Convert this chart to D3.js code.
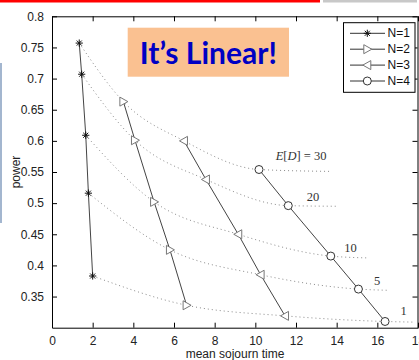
<!DOCTYPE html>
<html>
<head>
<meta charset="utf-8">
<script src="https://cdn.jsdelivr.net/npm/d3@7"></script>
<style>
  body { margin: 0; background: #fff; }
  svg { display: block; }
  .tick text { font-family: "Liberation Sans", Arial, sans-serif; font-size: 12px; fill: #222; }
</style>
</head>
<body>
<div id="chart"></div>
<script>
// values
const seriesNames = ["N=1", "N=2", "N=3", "N=4"];
const sojourn = [
  [1.34, 1.46, 1.66, 1.79, 2.00],
  [3.51, 4.08, 5.02, 5.80, 6.62],
  [6.49, 7.57, 9.16, 10.26, 11.46],
  [10.18, 11.62, 13.71, 15.07, 16.38]
];
const power = [
  [0.757, 0.707, 0.609, 0.516, 0.383],
  [0.663, 0.601, 0.502, 0.425, 0.336],
  [0.600, 0.538, 0.450, 0.385, 0.319],
  [0.554, 0.496, 0.415, 0.362, 0.310]
];
// iso-delay curves (dotted), one per E[D] level, with a short tail past N=4
const delayLevels = [30, 20, 10, 5, 1];
const tailSojourn = [13.67, 14.0, 15.6, 16.6, 17.75];
const tailPower = [0.551, 0.495, 0.412, 0.360, 0.309];
const labelSojourn = [12.25, 12.84, 14.68, 15.99, 17.29];
const labelPower = [0.576, 0.510, 0.428, 0.375, 0.327];
const xTicks = [0, 2, 4, 6, 8, 10, 12, 14, 16, 18];
const yTicks = [0.35, 0.4, 0.45, 0.5, 0.55, 0.6, 0.65, 0.7, 0.75, 0.8];

const width = 419, height = 360;
const margin = { top: 16.3, right: 1, bottom: 32.3, left: 52 };

const svg = d3.select("#chart").append("svg")
  .attr("width", width)
  .attr("height", height);

const x = d3.scaleLinear().domain([0, 18]).range([margin.left, width - margin.right]);
const y = d3.scaleLinear().domain([0.3, 0.8]).range([height - margin.bottom, margin.top]);

// slide decorations
svg.append("rect").attr("x", 0).attr("y", 0).attr("width", 320).attr("height", 2.5).attr("fill", "#ff0000");
svg.append("rect").attr("x", 323).attr("y", 0).attr("width", 94).attr("height", 2.5).attr("fill", "#c8c8c8");
svg.append("rect").attr("x", 0).attr("y", 63).attr("width", 2).attr("height", 160).attr("fill", "#a3b6cf");

// dotted iso-delay curves
const dotted = d3.line().x(d => x(d[0])).y(d => y(d[1])).curve(d3.curveMonotoneX);
delayLevels.forEach((lvl, j) => {
  const pts = sojourn.map((s, i) => [s[j], power[i][j]]);
  pts.push([tailSojourn[j], tailPower[j]]);
  svg.append("path")
    .attr("d", dotted(pts))
    .attr("fill", "none")
    .attr("stroke", "#8a8a8a")
    .attr("stroke-width", 1)
    .attr("stroke-dasharray", "1,3");
});

// iso-delay labels
delayLevels.forEach((lvl, j) => {
  const t = svg.append("text")
    .attr("x", x(labelSojourn[j]))
    .attr("y", y(labelPower[j]))
    .attr("text-anchor", "middle")
    .attr("dominant-baseline", "central")
    .attr("font-family", "'Liberation Serif', 'Times New Roman', serif")
    .attr("font-size", 12.5)
    .attr("fill", "#333");
  if (j === 0) {
    t.append("tspan").attr("font-style", "italic").text("E");
    t.append("tspan").text("[");
    t.append("tspan").attr("font-style", "italic").text("D");
    t.append("tspan").text("] = " + lvl);
  } else {
    t.text(lvl);
  }
});

// axes box with inward ticks on all sides
svg.append("g")
  .attr("transform", `translate(0,${y(0.3)})`)
  .call(d3.axisBottom(x).tickValues(xTicks).tickSizeInner(-5).tickSizeOuter(0).tickPadding(9));
svg.append("g")
  .attr("transform", `translate(0,${y(0.8)})`)
  .call(d3.axisTop(x).tickValues(xTicks).tickSizeInner(-5).tickSizeOuter(0).tickFormat(""));
svg.append("g")
  .attr("transform", `translate(${x(0)},0)`)
  .call(d3.axisLeft(y).tickValues(yTicks).tickSizeInner(-5).tickSizeOuter(0).tickPadding(8).tickFormat(d => d3.format("")(+d.toFixed(2))));
svg.append("g")
  .attr("transform", `translate(${x(18) - 0.5},0)`)
  .call(d3.axisRight(y).tickValues(yTicks).tickSizeInner(-5).tickSizeOuter(0).tickFormat(""));
svg.selectAll(".domain").attr("stroke", "#000");
svg.selectAll(".tick line").attr("stroke", "#000");

// marker shapes
function marker(g, i, cx, cy) {
  const s = 3.6;
  if (i === 0) {
    g.append("path")
      .attr("d", `M${cx},${cy - s}V${cy + s}M${cx - s},${cy}H${cx + s}` +
        `M${cx - s * 0.7},${cy - s * 0.7}L${cx + s * 0.7},${cy + s * 0.7}` +
        `M${cx - s * 0.7},${cy + s * 0.7}L${cx + s * 0.7},${cy - s * 0.7}`)
      .attr("stroke", "#111").attr("stroke-width", 1).attr("fill", "none");
  } else if (i === 1) {
    g.append("path")
      .attr("d", `M${cx - 3.5},${cy - 4.5}L${cx + 4.5},${cy}L${cx - 3.5},${cy + 4.5}Z`)
      .attr("stroke", "#777").attr("stroke-width", 1).attr("fill", "#fff");
  } else if (i === 2) {
    g.append("path")
      .attr("d", `M${cx + 3.5},${cy - 4.5}L${cx - 4.5},${cy}L${cx + 3.5},${cy + 4.5}Z`)
      .attr("stroke", "#777").attr("stroke-width", 1).attr("fill", "#fff");
  } else {
    g.append("circle").attr("cx", cx).attr("cy", cy).attr("r", 4)
      .attr("stroke", "#333").attr("stroke-width", 1).attr("fill", "#fff");
  }
}

// series lines and markers
const solid = d3.line().x(d => x(d[0])).y(d => y(d[1]));
seriesNames.forEach((name, i) => {
  const pts = sojourn[i].map((s, k) => [s, power[i][k]]);
  svg.append("path")
    .attr("d", solid(pts))
    .attr("fill", "none")
    .attr("stroke", "#444")
    .attr("stroke-width", 1);
  const g = svg.append("g");
  pts.forEach(p => marker(g, i, x(p[0]), y(p[1])));
});

// title box
svg.append("rect")
  .attr("x", 127.7).attr("y", 27.7).attr("width", 161.3).attr("height", 49)
  .attr("fill", "#fac191");
svg.append("text")
  .attr("x", 208.3).attr("y", 63.5)
  .attr("text-anchor", "middle")
  .attr("font-family", "Lato, 'Open Sans', sans-serif")
  .attr("font-weight", 700)
  .attr("font-size", 30)
  .attr("fill", "#0000c4")
  .text("It\u2019s Linear!");

// legend
const lg = svg.append("g");
lg.append("rect")
  .attr("x", 343.5).attr("y", 22.7).attr("width", 71.5).attr("height", 69.6)
  .attr("fill", "#fff").attr("stroke", "#000").attr("stroke-width", 1);
seriesNames.forEach((name, i) => {
  const ly = 33.3 + i * 15.9;
  lg.append("line").attr("x1", 350).attr("x2", 385).attr("y1", ly).attr("y2", ly)
    .attr("stroke", "#333").attr("stroke-width", 1);
  marker(lg, i, 367.3, ly);
  lg.append("text")
    .attr("x", 387.5).attr("y", ly)
    .attr("dominant-baseline", "central")
    .attr("font-family", "'Liberation Sans', Arial, sans-serif")
    .attr("font-size", 12)
    .attr("fill", "#111")
    .text(name);
});

// axis labels
svg.append("text")
  .attr("x", (x(0) + x(18)) / 2)
  .attr("y", 358)
  .attr("text-anchor", "middle")
  .attr("font-family", "'Liberation Sans', Arial, sans-serif")
  .attr("font-size", 12)
  .attr("fill", "#222")
  .text("mean sojourn time");
svg.append("text")
  .attr("transform", `translate(20,${(y(0.3) + y(0.8)) / 2}) rotate(-90)`)
  .attr("text-anchor", "middle")
  .attr("font-family", "'Liberation Sans', Arial, sans-serif")
  .attr("font-size", 12)
  .attr("fill", "#222")
  .text("power");
</script>
</body>
</html>
